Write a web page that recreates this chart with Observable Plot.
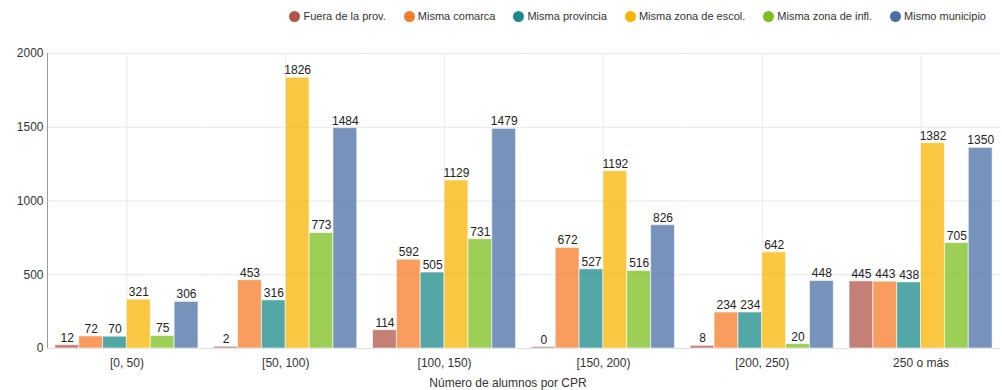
<!DOCTYPE html>
<html>
<head>
<meta charset="utf-8">
<script src="https://cdn.jsdelivr.net/npm/d3@7"></script>
<script src="https://cdn.jsdelivr.net/npm/@observablehq/plot@0.6"></script>
<style>
  body { margin: 0; background: #fff; font-family: "Liberation Sans", Arial, sans-serif; }
  #wrap { position: relative; width: 1002px; height: 390px; }
  #legend { height: 32px; display: flex; justify-content: flex-end; align-items: center; padding-right: 16px; box-sizing: border-box; font-size: 11px; color: #333; }
  .item { display: flex; align-items: center; margin-left: 18px; }
  .dot { width: 11px; height: 11px; border-radius: 50%; margin-right: 3px; }
  #xlabel { position: absolute; top: 376px; left: 508px; transform: translateX(-50%); font-size: 12px; color: #333; white-space: nowrap; }
</style>
</head>
<body>
<div id="wrap">
  <div id="legend"></div>
  <div id="chart"></div>
  <div id="xlabel">Número de alumnos por CPR</div>
</div>
<script>
const categories = ["[0, 50)", "[50, 100)", "[100, 150)", "[150, 200)", "[200, 250)", "250 o más"];
const seriesNames = ["Fuera de la prov.", "Misma comarca", "Misma provincia", "Misma zona de escol.", "Misma zona de infl.", "Mismo municipio"];
const colors = ["#b0554a", "#f57c2a", "#1a8a8a", "#f8b500", "#7cbf1e", "#4a6fa5"];
const fueraProv = [12, 2, 114, 0, 8, 445];
const mismaComarca = [72, 453, 592, 672, 234, 443];
const mismaProvincia = [70, 316, 505, 527, 234, 438];
const mismaZonaEscol = [321, 1826, 1129, 1192, 642, 1382];
const mismaZonaInfl = [75, 773, 731, 516, 20, 705];
const mismoMunicipio = [306, 1484, 1479, 826, 448, 1350];
const yTicks = [0, 500, 1000, 1500, 2000];

const seriesValues = [fueraProv, mismaComarca, mismaProvincia, mismaZonaEscol, mismaZonaInfl, mismoMunicipio];
const data = [];
categories.forEach((c, i) => {
  seriesNames.forEach((s, j) => data.push({cat: c, series: s, value: seriesValues[j][i]}));
});

// legend
const legend = document.getElementById("legend");
seriesNames.forEach((s, j) => {
  const it = document.createElement("div");
  it.className = "item";
  const d = document.createElement("span");
  d.className = "dot";
  d.style.background = colors[j];
  it.appendChild(d);
  it.appendChild(document.createTextNode(s));
  legend.appendChild(it);
});

const chart = Plot.plot({
  width: 1002,
  height: 358,
  marginTop: 21,
  marginBottom: 42,
  marginLeft: 40,
  marginRight: 2,
  style: {fontFamily: "Liberation Sans, Arial, sans-serif", fontSize: "12px", color: "#333"},
  fx: {domain: categories, paddingInner: 0, paddingOuter: 0.022, align: 1, round: false, label: null, tickSize: 0, tickPadding: 10, grid: true},
  x: {domain: seriesNames, paddingInner: 0, paddingOuter: 0.33, round: false, axis: null},
  y: {domain: [0, 2000], ticks: yTicks, tickFormat: d => String(d), tickSize: 0, tickPadding: 4, label: null},
  color: {domain: seriesNames, range: colors},
  marks: [
    Plot.gridY({ticks: yTicks, stroke: "#e6e6e6", strokeOpacity: 1}),
    Plot.frame({anchor: "left", stroke: "#999", facet: "super"}),
    Plot.ruleY([0], {stroke: "#ddd"}),
    Plot.barY(data, {fx: "cat", x: "series", y: "value", fill: "series", fillOpacity: 0.75, insetTop: -1.5, stroke: "white", strokeOpacity: 0.6, strokeWidth: 1}),
    Plot.text(data, {fx: "cat", x: "series", y: "value", text: d => String(d.value), lineAnchor: "bottom", dy: -5, fill: "#222", fontSize: 12})
  ]
});
document.getElementById("chart").appendChild(chart);
</script>
</body>
</html>
